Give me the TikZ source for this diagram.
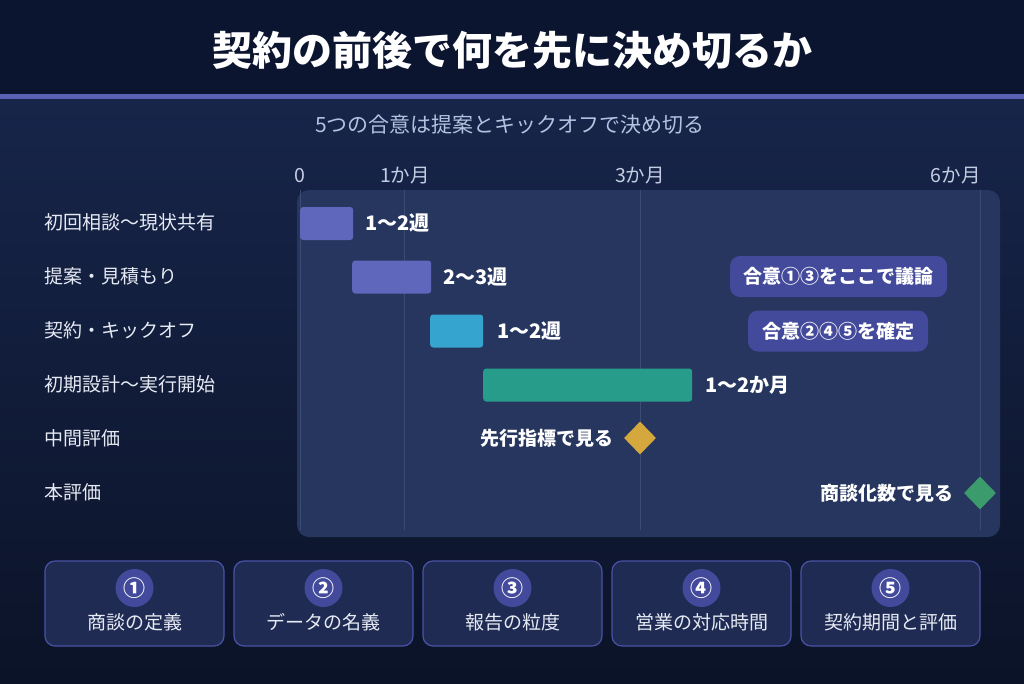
\documentclass[tikz,border=0pt]{standalone}
\usepackage{fontspec}
\setmainfont{Noto Sans CJK JP}
\usetikzlibrary{positioning,shapes.geometric}

\definecolor{titlebg}{HTML}{0C1530}
\definecolor{accent}{HTML}{5A61B4}
\definecolor{bgtop}{HTML}{17254A}
\definecolor{bgbot}{HTML}{0B1328}
\definecolor{panel}{HTML}{26365E}
\definecolor{grid}{HTML}{3B4B72}
\definecolor{barpurple}{HTML}{5E67BC}
\definecolor{barcyan}{HTML}{35A5D0}
\definecolor{barteal}{HTML}{289C8A}
\definecolor{msgold}{HTML}{D5A83D}
\definecolor{msgreen}{HTML}{3C9B6C}
\definecolor{badgebg}{HTML}{434A9B}
\definecolor{itemfill}{HTML}{1F2B52}
\definecolor{itemdraw}{HTML}{4A52A6}
\definecolor{lighttext}{HTML}{E6EAF4}
\definecolor{subtext}{HTML}{B5C1DE}
\definecolor{axistext}{HTML}{C5CDE5}

\begin{document}
\begin{tikzpicture}[x=1pt, y=1pt,
			rowlbl/.style = {anchor=west, inner sep=0, text=lighttext, font=\fontsize{19}{22}\selectfont},
			ticklbl/.style = {text=axistext, inner sep=0, font=\fontsize{19.5}{22}\selectfont},
			bar/.style = {anchor=west, rounded corners=3, minimum height=33, inner sep=0},
			barlbl/.style = {text=white, font=\fontsize{20}{23}\selectfont\bfseries, inner sep=0},
			milestone/.style = {diamond, aspect=1, minimum width=32, minimum height=33, inner sep=0},
			mslbl/.style = {barlbl, font=\fontsize{19}{22}\selectfont\bfseries},
			badge/.style = {fill=badgebg, rounded corners=10, minimum height=41, text=white,
				font=\fontsize{19}{22}\selectfont\bfseries},
			itembox/.style = {fill=itemfill, draw=itemdraw, line width=1.2, rounded corners=10,
				minimum width=179, minimum height=85},
			numdot/.style = {circle, fill=badgebg, minimum size=38, inner sep=0, text=white,
				font=\fontsize{22}{25}\selectfont\bfseries},
			itemlbl/.style = {text=lighttext, font=\fontsize{19}{22}\selectfont}]
			\useasboundingbox (0,0) rectangle (1024,-683);
			% background
			\shade [top color=bgtop, bottom color=bgbot] (0,-99) rectangle (1024,-683);
			\fill [titlebg] (0,0) rectangle (1024,-94);
			\fill [accent] (0,-94) rectangle (1024,-99);
			\node (title) [text=white, font=\fontsize{40}{46}\selectfont\bfseries] at (512,-50) {契約の前後で何を先に決め切るか};
			\node (sub) [text=subtext, font=\fontsize{21}{24}\selectfont] at (510,-125) {5つの合意は提案とキックオフで決め切る};
			% chart panel and grid
			\fill [panel, rounded corners=12] (297,-190) rectangle (1000,-537);
			\foreach \gx in {300,404,640,980}
				\draw [grid, line width=1] (\gx,-190) -- (\gx,-530);
			\node (t0) [ticklbl] at (300,-176) {0};
			\node (t1) [ticklbl] at (405,-176) {1か月};
			\node (t3) [ticklbl] at (640,-176) {3か月};
			\node (t6) [ticklbl, anchor=east] at (981,-176) {6か月};
			% rows
			\node (r1) [rowlbl] at (44,-222) {初回相談〜現状共有};
			\node (r2) [rowlbl] at (44,-276) {提案・見積もり};
			\node (r3) [rowlbl] at (44,-330) {契約・キックオフ};
			\node (r4) [rowlbl] at (44,-384) {初期設計〜実行開始};
			\node (r5) [rowlbl] at (44,-438) {中間評価};
			\node (r6) [rowlbl] at (44,-492) {本評価};
			% bars
			\node (bar1) [bar, fill=barpurple, minimum width=53] at (300,-223.5) {};
			\node (bar2) [bar, fill=barpurple, minimum width=79] at (352,-277) {};
			\node (bar3) [bar, fill=barcyan, minimum width=53] at (430,-331) {};
			\node (bar4) [bar, fill=barteal, minimum width=209] at (483,-385) {};
			\node (bar1lbl) [barlbl, right=12 of bar1] {1〜2週};
			\node (bar2lbl) [barlbl, right=12 of bar2] {2〜3週};
			\node (bar3lbl) [barlbl, right=14 of bar3] {1〜2週};
			\node (bar4lbl) [barlbl, right=13 of bar4] {1〜2か月};
			% milestones
			\node (ms1) [milestone, fill=msgold] at (640,-438) {};
			\node (ms2) [milestone, fill=msgreen] at (980,-493) {};
			\node (ms1lbl) [mslbl, left=10 of ms1] {先行指標で見る};
			\node (ms2lbl) [mslbl, left=10 of ms2] {商談化数で見る};
			% agreement badges
			\node (agr13) [badge, minimum width=217] at (838.5,-276.5) {合意①③をここで議論};
			\node (agr245) [badge, minimum width=180] at (838,-331) {合意②④⑤を確定};
			% agreement items
			\foreach \i/\num/\txt in {0/①/商談の定義, 1/②/データの名義, 2/③/報告の粒度,
				3/④/営業の対応時間, 4/⑤/契約期間と評価} {
				\node (item\i) [itembox] at (134.5+189*\i,-603.5) {};
				\node (num\i) [numdot] at (134.5+189*\i,-588) {\num};
				\node (lbl\i) [itemlbl] at (134.5+189*\i,-622) {\txt};
			}
		\end{tikzpicture}
\end{document}
